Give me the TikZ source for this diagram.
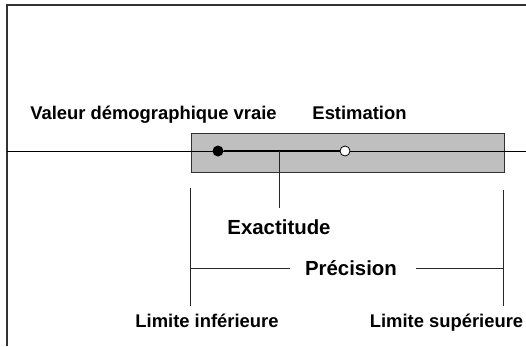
\documentclass[tikz,border=0pt]{standalone}
\usepackage{fontspec}
\setmainfont{Liberation Sans}
\begin{document}
\begin{tikzpicture}[x=1pt,y=-1pt,
  lbl/.style={font=\fontsize{18.4}{20}\selectfont\bfseries, inner sep=0pt, anchor=base},
  biglbl/.style={font=\fontsize{20.4}{22}\selectfont\bfseries, inner sep=0pt, anchor=base},
  thin/.style={line width=1pt, draw=black!85},
  dot/.style={circle, inner sep=0pt, minimum size=11pt}]
\useasboundingbox (0,0) rectangle (526,346);
% frame
\coordinate (fbl) at (7,346);
\coordinate (ftl) at (7,5);
\coordinate (ftr) at (526,5);
\draw[line width=1.5pt, draw=black!80] (fbl) -- (ftl) -- (ftr);
% axis
\coordinate (axl) at (7,151);
\coordinate (axr) at (526,151);
% grey box
\node[draw=black!80, fill=gray!50, line width=1pt, minimum width=313pt, minimum height=39pt, inner sep=0pt] (box) at (348,152.5) {};
\draw[line width=0.9pt] (axl) -- (axr);
% dots
\node[dot, fill=black] (true) at (218,151) {};
\node[dot, draw=black, fill=white, line width=0.8pt, minimum size=10pt] (est) at (345,151) {};
\draw[line width=2pt] (true) -- (est);
% labels
\node[lbl] (valeur) at (153.5,119) {Valeur démographique vraie};
\node[lbl] (estim) at (359.5,119) {Estimation};
\node[biglbl] (exact) at (279,234) {Exactitude};
\node[biglbl] (prec) at (351,275) {Précision};
\node[lbl] (linf) at (207,327) {Limite inférieure};
\node[lbl] (lsup) at (446.5,327) {Limite supérieure};
% exactitude connector
\coordinate (exA) at (279,151);
\coordinate (exB) at (279,208);
\draw[thin] (exA) -- (exB);
% precision bracket
\coordinate (bl1) at (190,188);
\coordinate (bl2) at (190,306);
\coordinate (br1) at (503,190);
\coordinate (br2) at (503,306);
\coordinate (bh1) at (190,268);
\coordinate (bh2) at (290,268);
\coordinate (bh3) at (416,268);
\coordinate (bh4) at (503,268);
\draw[thin] (bl1) -- (bl2);
\draw[thin] (br1) -- (br2);
\draw[thin] (bh1) -- (bh2);
\draw[thin] (bh3) -- (bh4);
\end{tikzpicture}
\end{document}
